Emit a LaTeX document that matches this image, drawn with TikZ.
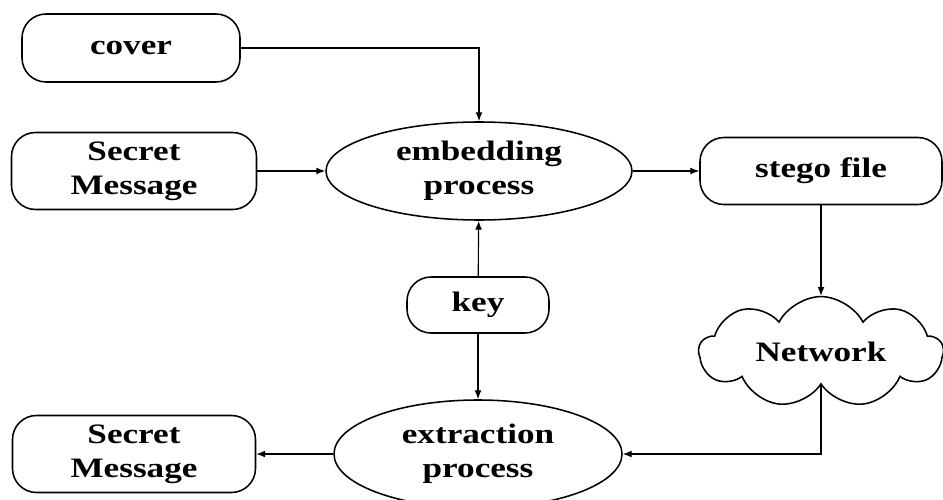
\documentclass[tikz,border=0pt]{standalone}
\usepackage{fontspec}
\setmainfont{Liberation Serif}[FakeStretch=1.25]
\usetikzlibrary{shapes.geometric,shapes.symbols,arrows.meta}

\begin{document}
\begin{tikzpicture}[
    boite/.style={draw, line width=1.1pt, rounded corners=0.6cm, align=center, inner sep=0pt},
    processus/.style={ellipse, draw, line width=1.1pt, align=center, inner sep=0pt},
    fleche/.style={-{Latex[length=2.2mm,width=1.7mm]}, line width=0.8pt},
    font=\bfseries\fontsize{20}{24}\selectfont
  ]
    \useasboundingbox (0,0) rectangle (23.575,-12.5);

    % Définition des nœuds
    \node[boite, minimum width=5.45cm, minimum height=1.7cm] (cover) at (3.275,-1.2) {cover};
    \node[boite, minimum width=6.125cm, minimum height=1.925cm] (secretA) at (3.35,-4.275) {Secret\\Message};
    \node[processus, minimum width=7.65cm, minimum height=2.45cm] (embed) at (11.975,-4.275) {embedding\\process};
    \node[boite, minimum width=6.05cm, minimum height=1.675cm] (stego) at (20.525,-4.275) {stego file};
    \node[boite, minimum width=3.55cm, minimum height=1.4cm] (key) at (11.95,-7.625) {key};
    \node[cloud, draw, line width=1.1pt, cloud puffs=9, cloud puff arc=125, aspect=2.4,
          minimum width=6.1cm, minimum height=2.45cm, inner sep=0pt] (network) at (20.525,-8.8) {Network};
    \node[processus, minimum width=7.2cm, minimum height=2.7cm] (extract) at (11.95,-11.35) {extraction\\process};
    \node[boite, minimum width=6.075cm, minimum height=1.925cm] (secretB) at (3.35,-11.35) {Secret\\Message};

    % Côté émetteur
    \draw[fleche] (cover.east) -| (embed.north);
    \draw[fleche] (secretA) -- (embed);
    \draw[fleche] (embed) -- (stego);
    \draw[fleche] (key) -- (embed);

    % Côté récepteur
    \draw[fleche] (stego) -- (network);
    \draw[fleche] (network.south) |- (extract.east);
    \draw[fleche] (key) -- (extract);
    \draw[fleche] (extract) -- (secretB);

\end{tikzpicture}
\end{document}
